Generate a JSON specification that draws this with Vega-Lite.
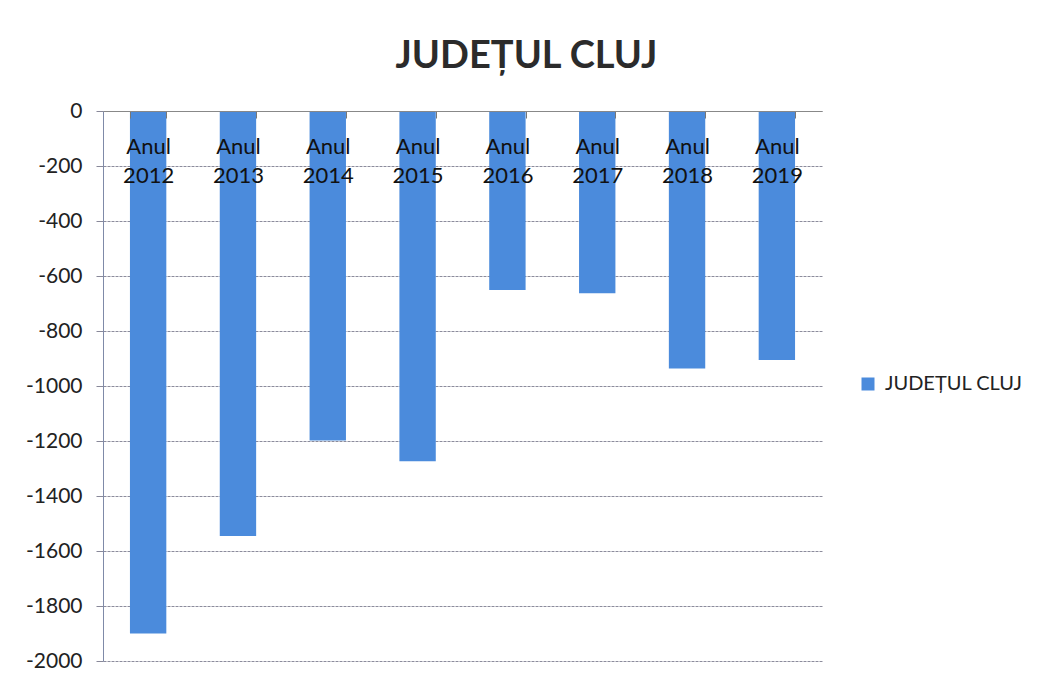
{
  "$schema": "https://vega.github.io/schema/vega-lite/v6.json",
  "width": 719,
  "height": 550,
  "autosize": {"type": "none"},
  "padding": {"left": 103, "top": 111, "right": 220, "bottom": 25},
  "background": "white",
  "title": {
    "text": "JUDEȚUL CLUJ",
    "font": "Lato",
    "fontSize": 38,
    "fontWeight": "bold",
    "color": "#2b2b2b",
    "anchor": "middle",
    "frame": "group",
    "dx": 64,
    "offset": 24
  },
  "data": {
    "values": [
      {"an": "Anul 2012", "valoare": -1900, "serie": "JUDEȚUL CLUJ"},
      {"an": "Anul 2013", "valoare": -1545, "serie": "JUDEȚUL CLUJ"},
      {"an": "Anul 2014", "valoare": -1198, "serie": "JUDEȚUL CLUJ"},
      {"an": "Anul 2015", "valoare": -1274, "serie": "JUDEȚUL CLUJ"},
      {"an": "Anul 2016", "valoare": -651, "serie": "JUDEȚUL CLUJ"},
      {"an": "Anul 2017", "valoare": -663, "serie": "JUDEȚUL CLUJ"},
      {"an": "Anul 2018", "valoare": -936, "serie": "JUDEȚUL CLUJ"},
      {"an": "Anul 2019", "valoare": -905, "serie": "JUDEȚUL CLUJ"}
    ]
  },
  "mark": {"type": "bar"},
  "encoding": {
    "x": {
      "field": "an",
      "type": "nominal",
      "sort": null,
      "scale": {"paddingInner": 0.595, "paddingOuter": 0.3},
      "axis": {
        "orient": "top",
        "title": null,
        "zindex": 2,
        "labelExpr": "split(datum.label, ' ')",
        "labelAngle": 0,
        "labelFont": "Lato",
        "labelFontSize": 22,
        "labelColor": "#111111",
        "labelLineHeight": 29,
        "labelBaseline": "top",
        "labelPadding": -18,
        "tickBand": "extent",
        "tickSize": -7,
        "tickColor": "#777777",
        "domainColor": "#888888",
        "grid": false
      }
    },
    "y": {
      "field": "valoare",
      "type": "quantitative",
      "scale": {"domain": [-2000, 0], "nice": false},
      "axis": {
        "values": [0, -200, -400, -600, -800, -1000, -1200, -1400, -1600, -1800, -2000],
        "labelExpr": "'' + datum.value",
        "title": null,
        "labelFont": "Lato",
        "labelFontSize": 21,
        "labelColor": "#222222",
        "labelPadding": 14,
        "tickSize": 7,
        "tickColor": "#888899",
        "domainColor": "#7f8aa8",
        "gridColor": "#8c8c9c",
        "gridDash": [3, 1],
        "gridWidth": 1
      }
    },
    "color": {
      "field": "serie",
      "type": "nominal",
      "scale": {"range": ["#4b8bdc"]},
      "legend": {
        "title": null,
        "orient": "none",
        "legendX": 755,
        "legendY": 263,
        "symbolType": "square",
        "symbolSize": 169,
        "symbolStrokeWidth": 0,
        "labelFont": "Lato",
        "labelFontSize": 20,
        "labelColor": "#222222",
        "labelOffset": 7
      }
    }
  },
  "config": {"view": {"stroke": null}}
}
